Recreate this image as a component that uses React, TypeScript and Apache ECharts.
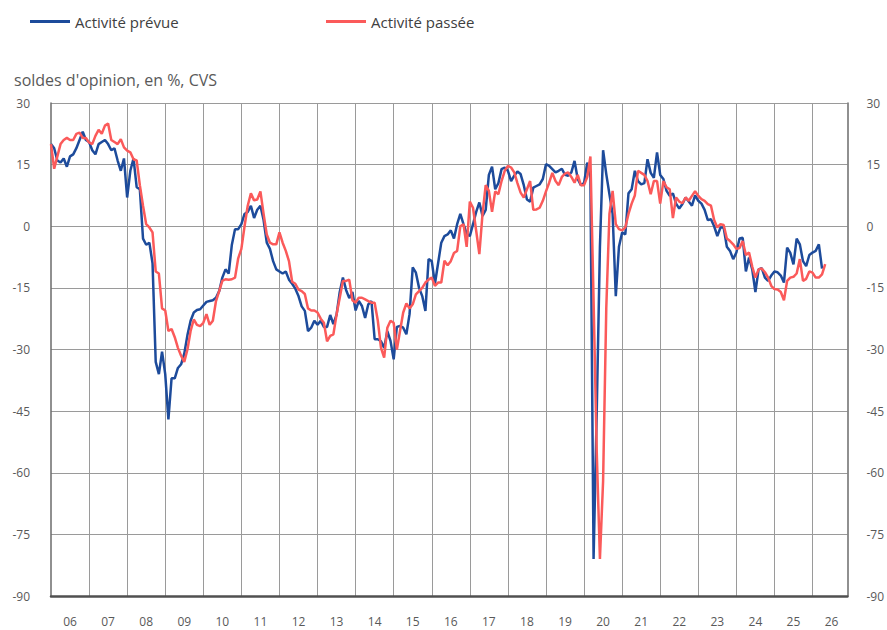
import React, { useEffect, useRef } from "react";
import * as echarts from "echarts";

const FIRST_YEAR = 2006;
const LAST_YEAR = 2026;
const yTicks = { min: -90, max: 30, interval: 15 };
const seriesNames = ["Activité prévue", "Activité passée"];
const yTitle = "soldes d'opinion, en %, CVS";

// Monthly values, Jan 2006 onward
const activitePrevue = [
  20, 19, 16, 15.5, 16.5, 14.5, 17, 17.5, 19, 21, 23, 21,
  20.5, 18.5, 17.5, 20, 20.5, 21, 20, 18.5, 19, 16, 13.5, 16.5,
  7, 13.5, 16.5, 9.5, 9, -3, -4.5, -4, -9, -33, -36, -30.5,
  -36, -47, -37, -37, -34.5, -33.6, -31, -26.5, -23, -21, -20.4, -20.2,
  -19.3, -18.4, -18.2, -18, -17.4, -15.8, -12.5, -10.5, -11.5, -4.5, -0.7, -0.7,
  0.5, 3, 3.5, 5, 2, 4, 5, 1.5, -4, -5.5, -8.5, -10.5,
  -11, -11.5, -11, -13, -14, -15.2, -17, -19.5, -20.6, -25.5, -24.7, -23,
  -24, -23, -24.5, -24.5, -21.6, -23.8, -21.5, -16, -12.5, -15.5, -17.5, -16,
  -20.5, -18.2, -19.4, -22.3, -19, -18.2, -27.5, -27.5, -28, -29.6, -25.5, -27.9,
  -32.4, -24.5, -24.3, -24.7, -26.3, -21.4, -10, -11.3, -15, -17, -20.6, -8,
  -8.5, -14, -9, -4, -2.4, -2, -1, -3, 0.5, 3, 0.5, -1.8,
  -2.4, 0.5, 3.5, 5.8, 2.5, 4, 12.5, 14.5, 9, 10.5, 13.9, 14.3,
  13.5, 11, 12.3, 13.3, 12.7, 10, 6.5, 6, 9.4, 9.8, 10.2, 11.5,
  15.1, 14.7, 13.9, 13.1, 13.5, 14, 12.5, 12.3, 13.1, 15.9, 11.5, 10,
  10.5, 15.5, 12, -81, -45, -5, 18.5, 12.7, 7.8, 3, -17, -5,
  -1.5, -2, 8, 9, 13.5, 11, 10.2, 10.5, 16.3, 13, 11.8, 18,
  12.5, 11.5, 8.6, 7.4, 8, 5.5, 4.3, 5.4, 7, 6, 5, 7.5,
  6.2, 5.5, 4, 1.5, 1.7, 0, -2.4, -0.3, -0.3, -5, -6, -8,
  -6.4, -3, -2.8, -11, -7.6, -10.5, -16, -10.5, -10.2, -12.5, -13.3, -12,
  -11, -11.2, -12, -13.7, -5.2, -6.5, -9.3, -3, -4.4, -8.5, -9.7, -7,
  -6.4, -6, -4.4, -10.3,
];

const activitePassee = [
  20, 14, 17, 20, 21, 21.5, 21, 21, 22.5, 22.8, 21.5, 21.5,
  20.4, 20, 22, 23.5, 22.5, 24.5, 25, 21, 20.5, 20, 21.2, 19.2,
  18.4, 18, 16.3, 16, 10, 5, 0.5, -0.3, -1.5, -11, -11.5, -20,
  -20.5, -25.5, -25, -27, -29.6, -31.5, -33, -30, -25.5, -22.7, -24, -24.3,
  -23.5, -21.4, -24, -23, -18.2, -15.8, -13.3, -12.9, -13, -12.9, -12.5, -7.8,
  -5.5, 0, 5, 8, 6.3, 6.5, 8.5, 3, -2, -4, -4.4, -4.4,
  -1.5, -4, -6, -8.5, -13.5, -14, -15.4, -15.8, -16.5, -20, -20.5, -20.5,
  -21, -22.5, -23.5, -28, -26.7, -26.3, -21.5, -17.4, -13.3, -13.3, -13, -18,
  -18.6, -17.4, -17.4, -17.8, -18.2, -18.6, -18.6, -23, -29.6, -32, -24.7, -23,
  -23.5, -30, -25.5, -21, -18.8, -20, -19, -16.6, -15.8, -15, -13.7, -13,
  -12.5, -14.5, -13.7, -13.7, -8.4, -9.5, -8.5, -6.5, -6, 0, 0.5, -5,
  6, 4.5, -1.1, -6.8, 3, 10, 8.6, 3.5, 8.5, 7.8, 11, 13.5,
  14.7, 14.3, 13.1, 10.5, 8.2, 7, 9, 11, 4, 4.1, 4.5, 6.2,
  8.5, 10.6, 13, 11, 10, 12, 12.8, 13.1, 12, 10.6, 12.5, 10,
  10, 12, 17, -18, -55, -81, -62, -20, 3, 8.6, 0.5, -0.7,
  -1, -0.3, 3, 5.5, 7.5, 13.5, 13, 12.5, 11, 7.8, 11, 11,
  5.5, 11, 9.5, 9, 2, 7, 6, 5.6, 7, 6.2, 7.4, 8.5,
  7.4, 6.6, 6.2, 5.4, 5, 1.5, -0.3, 0.5, 0.3, -3, -3.6, -4.4,
  -5.5, -5.3, -3.6, -7, -6.4, -9.8, -12.5, -10.5, -10.3, -11.2, -12.5, -14.5,
  -15.3, -15.4, -16, -18, -13.3, -12.5, -12.3, -11.5, -8, -13.3, -12.8, -11,
  -11.3, -12.5, -12.5, -11.7, -9.2,
];

const months: string[] = [];
for (let y = FIRST_YEAR; y <= LAST_YEAR; y++) {
  for (let m = 1; m <= 12; m++) months.push(`${y}-${m < 10 ? "0" + m : m}`);
}

const BLUE = "#1d4b9b";
const RED = "#fb5a5a";
const FONT = "'Open Sans', 'Noto Sans', sans-serif";
const TXT = "#595959";

export default function App() {
  const ref = useRef<HTMLDivElement>(null);
  useEffect(() => {
    if (!ref.current) return;
    const chart = echarts.init(ref.current, undefined, { renderer: "svg" });
    const yCommon = {
      type: "value" as const,
      min: yTicks.min,
      max: yTicks.max,
      interval: yTicks.interval,
      axisTick: { show: false },
      axisLine: { show: true, lineStyle: { color: "#6b6b6b", width: 1.5 } },
      axisLabel: { color: TXT, fontSize: 12, fontFamily: FONT },
    };
    const legendBase = {
      top: 9,
      icon: "rect",
      itemWidth: 40,
      itemHeight: 3,
      textStyle: { color: "#404040", fontSize: 15, fontFamily: FONT },
    };
    chart.setOption({
      animation: false,
      textStyle: { fontFamily: FONT },
      title: {
        text: yTitle,
        left: 9,
        top: 67,
        textStyle: { color: TXT, fontSize: 16, fontWeight: "normal", fontFamily: FONT },
      },
      legend: [
        { ...legendBase, data: [seriesNames[0]], left: 25 },
        { ...legendBase, data: [seriesNames[1]], left: 321 },
      ],
      grid: { left: 51, right: 39, top: 103, bottom: 34, containLabel: false },
      xAxis: {
        type: "category",
        data: months,
        boundaryGap: false,
        axisTick: { show: false },
        axisLine: { show: true, onZero: false, lineStyle: { color: "#505050", width: 2.5 } },
        axisLabel: {
          interval: (idx: number) => idx % 12 === 6,
          formatter: (v: string) => v.slice(2, 4),
          color: TXT,
          fontSize: 12,
          fontFamily: FONT,
          margin: 19,
        },
        splitLine: {
          show: true,
          interval: (idx: number) => idx % 12 === 0 && idx > 0,
          lineStyle: { color: "#9a9a9a", width: 1 },
        },
      },
      yAxis: [
        {
          ...yCommon,
          position: "left",
          axisLabel: { ...yCommon.axisLabel, margin: 21 },
          splitLine: { show: true, lineStyle: { color: "#9a9a9a", width: 1 } },
        },
        {
          ...yCommon,
          position: "right",
          axisLabel: { ...yCommon.axisLabel, margin: 19 },
          splitLine: { show: false },
        },
      ],
      series: [
        {
          name: seriesNames[0],
          type: "line",
          data: activitePrevue,
          showSymbol: false,
          symbol: "none",
          lineStyle: { color: BLUE, width: 2.5 },
          itemStyle: { color: BLUE },
        },
        {
          name: seriesNames[1],
          type: "line",
          data: activitePassee,
          showSymbol: false,
          symbol: "none",
          lineStyle: { color: RED, width: 2.5 },
          itemStyle: { color: RED },
        },
      ],
    });
    return () => chart.dispose();
  }, []);
  return (
    <div
      ref={ref}
      style={{ position: "fixed", left: 0, top: 0, width: 887, height: 630, background: "#fff" }}
    />
  );
}
